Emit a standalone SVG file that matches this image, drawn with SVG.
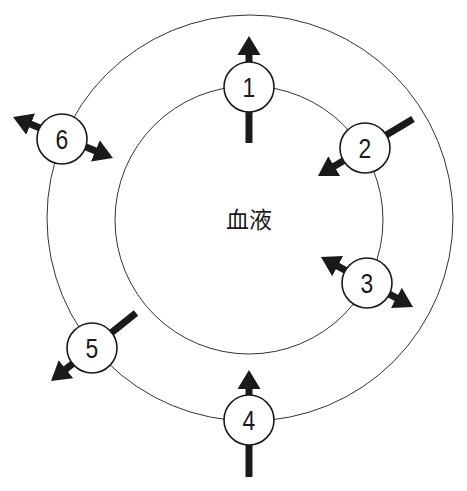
<svg xmlns="http://www.w3.org/2000/svg" width="467" height="491" viewBox="0 0 467 491">
<style>
.ring{fill:none;stroke:#333;stroke-width:1}
.node{fill:#fff;stroke:#1a1a1a;stroke-width:1.6}
.num{font-family:"Liberation Sans",Arial,sans-serif;font-size:27px;fill:#1a1a1a;text-anchor:middle}
.shaft{stroke:#1a1a1a;stroke-width:7;fill:none}
.lbl{font-family:"Noto Sans CJK SC",sans-serif;font-size:23px;fill:#1a1a1a;text-anchor:middle}
</style>
<defs>
<marker id="ah" markerUnits="userSpaceOnUse" markerWidth="20" markerHeight="24" refX="1" refY="11.5" orient="auto-start-reverse" viewBox="0 0 20 23">
<path d="M0,0 L19,11.5 L0,23 z" fill="#1a1a1a"/>
</marker>
</defs>
<g id="rings">
<circle class="ring" cx="250" cy="218" r="203"/>
<circle class="ring" cx="249" cy="220" r="134"/>
</g>
<text class="lbl" x="249" y="228">血液</text>
<g id="connectors">
<line class="shaft" x1="249" y1="143" x2="249" y2="54" marker-end="url(#ah)"/>
<line class="shaft" x1="413" y1="119" x2="333.4" y2="166.7" marker-end="url(#ah)"/>
<line class="shaft" x1="336.8" y1="265.6" x2="397.2" y2="298.4" marker-start="url(#ah)" marker-end="url(#ah)"/>
<line class="shaft" x1="29.7" y1="123.8" x2="96.3" y2="151.2" marker-start="url(#ah)" marker-end="url(#ah)"/>
<line class="shaft" x1="136" y1="313" x2="65.1" y2="369.8" marker-end="url(#ah)"/>
<line class="shaft" x1="249" y1="477" x2="249" y2="388" marker-end="url(#ah)"/>
</g>
<g id="node1"><circle class="node" cx="249" cy="87" r="25"/><text class="num" transform="translate(249,96.5) scale(0.85,1)">1</text></g>
<g id="node2"><circle class="node" cx="365" cy="148" r="25"/><text class="num" transform="translate(365,157.5) scale(0.85,1)">2</text></g>
<g id="node3"><circle class="node" cx="367" cy="283" r="25"/><text class="num" transform="translate(367,292.5) scale(0.85,1)">3</text></g>
<g id="node4"><circle class="node" cx="249" cy="420" r="25"/><text class="num" transform="translate(249,429.5) scale(0.85,1)">4</text></g>
<g id="node5"><circle class="node" cx="92" cy="348" r="25"/><text class="num" transform="translate(92,357.5) scale(0.85,1)">5</text></g>
<g id="node6"><circle class="node" cx="62" cy="139" r="25"/><text class="num" transform="translate(62,148.5) scale(0.85,1)">6</text></g>
</svg>
